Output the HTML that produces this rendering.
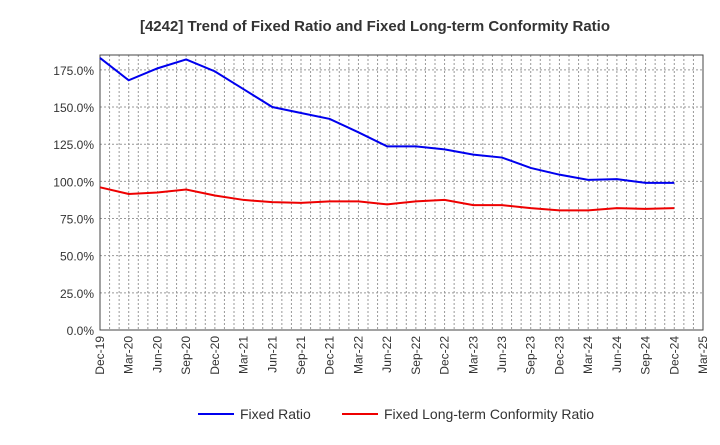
<!DOCTYPE html>
<html><head><meta charset="utf-8"><style>
body{margin:0;background:#fff;font-family:"Liberation Sans",sans-serif;}
</style></head><body>
<svg id="chart" width="720" height="440" xmlns="http://www.w3.org/2000/svg">
<text x="375" y="31" text-anchor="middle" font-size="15" font-weight="bold" fill="#333">[4242]  Trend of Fixed Ratio and Fixed Long-term Conformity Ratio</text>
<g id="grid"></g><g id="axes"></g><g id="series"></g>
<g>
<line x1="198" y1="414" x2="234" y2="414" stroke="#0000ee" stroke-width="2"/>
<text x="240" y="419" font-size="14" fill="#333">Fixed Ratio</text>
<line x1="342" y1="414" x2="378" y2="414" stroke="#ee0000" stroke-width="2"/>
<text x="384" y="419" font-size="14" fill="#333">Fixed Long-term Conformity Ratio</text>
</g>
</svg>
<script>
const categories=["Dec-19","Mar-20","Jun-20","Sep-20","Dec-20","Mar-21","Jun-21","Sep-21","Dec-21","Mar-22","Jun-22","Sep-22","Dec-22","Mar-23","Jun-23","Sep-23","Dec-23","Mar-24","Jun-24","Sep-24","Dec-24","Mar-25"];
const fixedRatio=[183,168,176,182,174,162,150,146,142,133,123.5,123.5,121.5,118,116,109,104.5,101,101.5,99,99];
const fixedLongTerm=[96,91.5,92.5,94.5,90.5,87.5,86,85.5,86.5,86.5,84.5,86.5,87.5,84,84,82,80.5,80.5,82,81.5,82];
const yTicks=[0,25,50,75,100,125,150,175];
const L=100,R=703,T=55,B=330,YMAX=185;
const NS="http://www.w3.org/2000/svg";
const x=i=>L+(R-L)*i/(categories.length-1);
const y=v=>B-(B-T)*v/YMAX;
function mk(tag,attrs,parent){const e=document.createElementNS(NS,tag);for(const k in attrs)e.setAttribute(k,attrs[k]);parent.appendChild(e);return e;}
const grid=document.getElementById('grid'),axes=document.getElementById('axes'),ser=document.getElementById('series');
const months=(categories.length-1)*3;
for(let m=1;m<months;m++){const xx=L+(R-L)*m/months;
const g=mk('line',{x1:xx,x2:xx,y1:T,y2:B,stroke:'#999','stroke-dasharray':'2,2','stroke-width':1},grid);

}
yTicks.forEach(v=>{const yy=y(v);
const g=mk('line',{x1:L,x2:R,y1:yy,y2:yy,stroke:'#999','stroke-dasharray':'2,2','stroke-width':1},grid);


const t=mk('text',{x:L-6,y:yy+5,'text-anchor':'end','font-size':12,fill:'#333'},axes);t.textContent=v.toFixed(1)+'%';

});
categories.forEach((c,i)=>{const xx=x(i);
const t=mk('text',{transform:`translate(${xx+4},${B+6}) rotate(-90)`,'text-anchor':'end','font-size':12,fill:'#333'},axes);t.textContent=c;

});
const frame=mk('rect',{x:L,y:T,width:R-L,height:B-T,fill:'none',stroke:'#444','stroke-width':1},axes);


function line(data,color,name){const p=mk('polyline',{points:data.map((v,i)=>x(i)+','+y(v)).join(' '),fill:'none',stroke:color,'stroke-width':2},ser);

}
line(fixedRatio,'#0000ee','fixed-ratio-line');
line(fixedLongTerm,'#ee0000','fixed-long-term-line');
</script>
</body></html>
